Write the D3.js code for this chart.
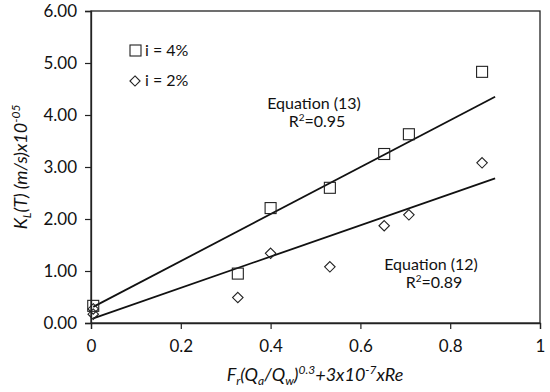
<!DOCTYPE html>
<html>
<head>
<meta charset="utf-8">
<script src="https://cdn.jsdelivr.net/npm/d3@7"></script>
<style>
  body { margin: 0; background: #fff; }
  svg text { font-family: Lato, "Open Sans", sans-serif; fill: #111; }
</style>
</head>
<body>
<div id="chart"></div>
<script>
// i = 4% (squares)
const xSq = [0.005, 0.327, 0.40, 0.532, 0.653, 0.708, 0.871];
const ySq = [0.33, 0.95, 2.21, 2.60, 3.25, 3.63, 4.83];
// i = 2% (diamonds)
const xDi = [0.005, 0.005, 0.327, 0.40, 0.532, 0.653, 0.708, 0.871];
const yDi = [0.27, 0.17, 0.49, 1.34, 1.08, 1.87, 2.08, 3.08];
// fitted lines: [x0, y0, x1, y1]
const fit13 = [[0.005, 0.31], [0.9, 4.35]];
const fit12 = [[0.005, 0.09], [0.9, 2.78]];
const xTicks = [0, 0.2, 0.4, 0.6, 0.8, 1];
const yTicks = [0, 1, 2, 3, 4, 5, 6];

const W = 550, H = 392;
const margin = {left: 91, right: 10, top: 11, bottom: 69};

const svg = d3.select("#chart").append("svg")
  .attr("width", W).attr("height", H);

const x = d3.scaleLinear().domain([0, 1]).range([margin.left, W - margin.right]);
const y = d3.scaleLinear().domain([0, 6]).range([H - margin.bottom, margin.top]);

// frame
svg.append("rect")
  .attr("x", x(0)).attr("y", y(6))
  .attr("width", x(1) - x(0)).attr("height", y(0) - y(6))
  .attr("fill", "none").attr("stroke", "#222").attr("stroke-width", 1.3);

const xAxis = svg.append("g")
  .attr("transform", `translate(0,${y(0)})`)
  .call(d3.axisBottom(x).tickValues(xTicks).tickSize(6).tickPadding(11)
    .tickFormat(d => d === 0 ? "0" : d === 1 ? "1" : d3.format(".1f")(d)));
const yAxis = svg.append("g")
  .attr("transform", `translate(${x(0)},0)`)
  .call(d3.axisLeft(y).tickValues(yTicks).tickSize(6).tickPadding(8)
    .tickFormat(d3.format(".2f")));

[xAxis, yAxis].forEach(g => {
  g.select(".domain").attr("stroke", "#222").attr("stroke-width", 1.3);
  g.selectAll(".tick line").attr("stroke", "#222").attr("stroke-width", 1.2);
  g.selectAll(".tick text").attr("font-size", 17).attr("fill", "#111")
    .style("font-family", "Lato, sans-serif");
});

// fit lines
const line = d3.line().x(d => x(d[0])).y(d => y(d[1]));
[fit13, fit12].forEach(f => {
  svg.append("path").attr("d", line(f))
    .attr("fill", "none").attr("stroke", "#111").attr("stroke-width", 1.8);
});

// markers
const sq = 11;
svg.append("g").selectAll("rect")
  .data(xSq.map((v, i) => [v, ySq[i]]))
  .join("rect")
  .attr("x", d => x(d[0]) - sq / 2).attr("y", d => y(d[1]) - sq / 2)
  .attr("width", sq).attr("height", sq)
  .attr("fill", "none").attr("stroke", "#222").attr("stroke-width", 1.1);

const diamond = d3.symbol().type(d3.symbolDiamond2).size(70);
svg.append("g").selectAll("path")
  .data(xDi.map((v, i) => [v, yDi[i]]))
  .join("path")
  .attr("d", diamond)
  .attr("transform", d => `translate(${x(d[0])},${y(d[1])})`)
  .attr("fill", "none").attr("stroke", "#222").attr("stroke-width", 1.1);

// legend
svg.append("rect").attr("x", 130).attr("y", 45).attr("width", 11).attr("height", 11)
  .attr("fill", "none").attr("stroke", "#222").attr("stroke-width", 1.1);
svg.append("text").attr("x", 145).attr("y", 56).attr("font-size", 16).text("i = 4%");
svg.append("path").attr("d", d3.symbol().type(d3.symbolDiamond2).size(66))
  .attr("transform", "translate(135,81)")
  .attr("fill", "none").attr("stroke", "#222").attr("stroke-width", 1.1);
svg.append("text").attr("x", 145).attr("y", 86).attr("font-size", 16).text("i = 2%");

// equation annotations
function eqn(cx, by, label, r2) {
  svg.append("text").attr("x", cx).attr("y", by).attr("text-anchor", "middle")
    .attr("font-size", 16).text(label);
  const t = svg.append("text").attr("x", cx + 3).attr("y", by + 18).attr("text-anchor", "middle")
    .attr("font-size", 16);
  t.append("tspan").text("R");
  t.append("tspan").attr("font-size", 10).attr("dy", -6).text("2");
  t.append("tspan").attr("dy", 6).text("=" + r2);
}
eqn(314, 109, "Equation (13)", "0.95");
eqn(431, 270, "Equation (12)", "0.89");

// axis titles
const xt = svg.append("text").attr("x", 315).attr("y", 381).attr("text-anchor", "middle")
  .attr("font-size", 18).attr("font-style", "italic");
xt.append("tspan").text("F");
xt.append("tspan").attr("font-size", 12).attr("dy", 4).text("r");
xt.append("tspan").attr("dy", -4).text("(Q");
xt.append("tspan").attr("font-size", 12).attr("dy", 4).text("a");
xt.append("tspan").attr("dy", -4).text("/Q");
xt.append("tspan").attr("font-size", 12).attr("dy", 4).text("w");
xt.append("tspan").attr("dy", -4).text(")");
xt.append("tspan").attr("font-size", 12).attr("dy", -7).text("0.3");
xt.append("tspan").attr("dy", 7).text("+3x10");
xt.append("tspan").attr("font-size", 12).attr("dy", -7).text("-7");
xt.append("tspan").attr("dy", 7).text("xRe");

const yt = svg.append("text").attr("transform", "translate(27,167) rotate(-90)")
  .attr("text-anchor", "middle").attr("font-size", 18).attr("font-style", "italic");
yt.append("tspan").text("K");
yt.append("tspan").attr("font-size", 12).attr("dy", 4).text("L");
yt.append("tspan").attr("dy", -4).text("(T) (m/s)x10");
yt.append("tspan").attr("font-size", 12).attr("dy", -7).text("-05");
</script>
</body>
</html>
